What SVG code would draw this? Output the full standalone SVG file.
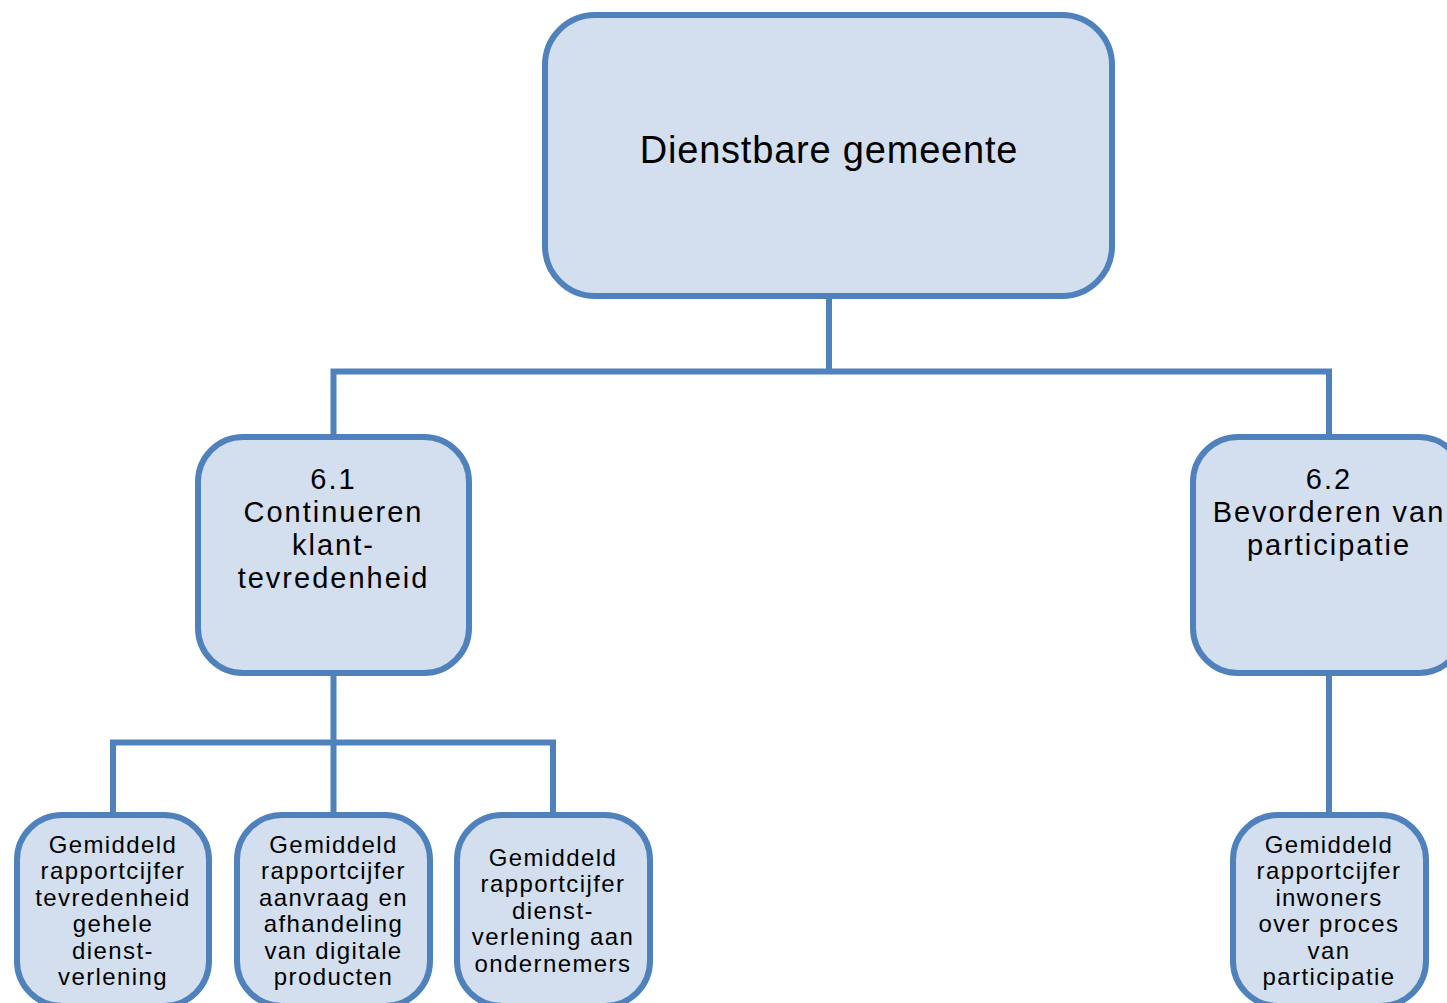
<svg xmlns="http://www.w3.org/2000/svg" width="1447" height="1003" viewBox="0 0 1447 1003">
<style>
.box{fill:#D3DFEE;stroke:#4F81BD;stroke-width:6}
.line{fill:none;stroke:#4F81BD;stroke-width:6;stroke-linejoin:miter}
text{font-family:"Liberation Sans",Arial,sans-serif;fill:#000;text-anchor:middle}
.t0{font-size:38px;letter-spacing:0.8px}
.t1{font-size:29px;letter-spacing:2px}
.t2{font-size:24px;letter-spacing:1.4px}
</style>
<rect width="1447" height="1003" fill="#fff"/>
<g id="connectors">
<path class="line" d="M829 296V371.5M333.5 437V371.5H1329V437"/>
<path class="line" d="M333.5 673V742.5M113 815V742.5H553V815M333.5 742.5V815"/>
<path class="line" d="M1329 673V815"/>
</g>
<g id="n0">
<rect class="box" x="545" y="15" width="567" height="281" rx="50"/>
<text class="t0" x="829" y="163">Dienstbare gemeente</text>
</g>
<g id="n61">
<rect class="box" x="198" y="437" width="271" height="236" rx="45"/>
<text class="t1" x="333.5" y="489">6.1</text>
<text class="t1" x="333.5" y="522">Continueren</text>
<text class="t1" x="333.5" y="554.5">klant-</text>
<text class="t1" x="333.5" y="587.5">tevredenheid</text>
</g>
<g id="n62">
<rect class="box" x="1193" y="437" width="271" height="236" rx="45"/>
<text class="t1" x="1329" y="489">6.2</text>
<text class="t1" x="1329" y="522">Bevorderen van</text>
<text class="t1" x="1329" y="554.5">participatie</text>
</g>
<g id="c1">
<rect class="box" x="17" y="815" width="192" height="191" rx="45"/>
<text class="t2" x="113" y="853"><tspan x="113">Gemiddeld</tspan><tspan x="113" dy="26.4">rapportcijfer</tspan><tspan x="113" dy="26.4">tevredenheid</tspan><tspan x="113" dy="26.4">gehele</tspan><tspan x="113" dy="26.4">dienst-</tspan><tspan x="113" dy="26.4">verlening</tspan></text>
</g>
<g id="c2">
<rect class="box" x="237" y="815" width="193" height="191" rx="45"/>
<text class="t2" x="333.5" y="853"><tspan x="333.5">Gemiddeld</tspan><tspan x="333.5" dy="26.4">rapportcijfer</tspan><tspan x="333.5" dy="26.4">aanvraag en</tspan><tspan x="333.5" dy="26.4">afhandeling</tspan><tspan x="333.5" dy="26.4">van digitale</tspan><tspan x="333.5" dy="26.4">producten</tspan></text>
</g>
<g id="c3">
<rect class="box" x="457" y="815" width="193" height="191" rx="45"/>
<text class="t2" x="553" y="866"><tspan x="553">Gemiddeld</tspan><tspan x="553" dy="26.4">rapportcijfer</tspan><tspan x="553" dy="26.4">dienst-</tspan><tspan x="553" dy="26.4">verlening aan</tspan><tspan x="553" dy="26.4">ondernemers</tspan></text>
</g>
<g id="c4">
<rect class="box" x="1233" y="815" width="193" height="191" rx="45"/>
<text class="t2" x="1329" y="853"><tspan x="1329">Gemiddeld</tspan><tspan x="1329" dy="26.4">rapportcijfer</tspan><tspan x="1329" dy="26.4">inwoners</tspan><tspan x="1329" dy="26.4">over proces</tspan><tspan x="1329" dy="26.4">van</tspan><tspan x="1329" dy="26.4">participatie</tspan></text>
</g>
</svg>
